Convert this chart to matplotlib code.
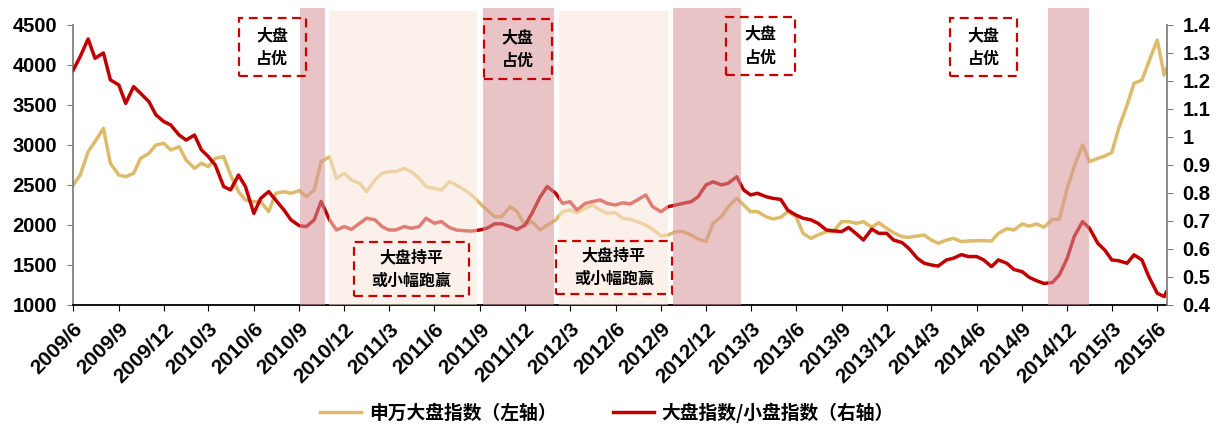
import pandas as pd
import matplotlib
matplotlib.use('Agg')
import matplotlib.pyplot as plt
from matplotlib.patches import Rectangle
from matplotlib.ticker import MultipleLocator, FuncFormatter

plt.rcParams['font.family'] = ['Liberation Sans', 'Noto Sans CJK SC']
plt.rcParams['font.weight'] = 'bold'

# semi-monthly sampling dates (1st / 15th), last point = last trading day shown
dates = list(pd.date_range('2009-06-01', periods=146, freq='SMS')) + [pd.Timestamp('2015-06-19')]

# 申万大盘指数 (left axis)
sw_large = [2500, 2625, 2917, 3042, 3208, 2771, 2625, 2604, 2646, 2833,
            2896, 3000, 3021, 2938, 2979, 2813, 2708, 2771, 2729, 2833,
            2854, 2625, 2417, 2313, 2292, 2292, 2167, 2396, 2417, 2396,
            2430, 2354, 2437, 2792, 2854, 2583, 2646, 2563, 2521, 2417,
            2563, 2646, 2667, 2667, 2708, 2667, 2583, 2479, 2458, 2437,
            2542, 2500, 2437, 2375, 2271, 2188, 2104, 2104, 2229, 2167,
            2000, 2042, 1937, 2000, 2062, 2167, 2187, 2154, 2208, 2250,
            2187, 2146, 2154, 2083, 2071, 2042, 2000, 1946, 1862, 1875,
            1917, 1917, 1875, 1825, 1792, 2021, 2104, 2229, 2333, 2250,
            2167, 2167, 2104, 2075, 2096, 2167, 2104, 1896, 1833, 1875,
            1917, 1917, 2042, 2042, 2021, 2042, 1971, 2029, 1958, 1904,
            1854, 1846, 1862, 1875, 1812, 1771, 1812, 1833, 1792, 1800,
            1804, 1804, 1800, 1896, 1954, 1937, 2012, 1987, 2012, 1971,
            2071, 2071, 2458, 2729, 3000, 2792, 2833, 2862, 2904, 3208,
            3500, 3771, 3812, 4042, 4312, 3875, 3950]

# 大盘指数/小盘指数 (right axis)
big_small_ratio = [1.239, 1.287, 1.350, 1.281, 1.300, 1.204, 1.186, 1.120, 1.180, 1.156,
                   1.126, 1.079, 1.055, 1.043, 1.007, 0.989, 1.007, 0.954, 0.930, 0.900,
                   0.823, 0.811, 0.864, 0.823, 0.727, 0.781, 0.805, 0.775, 0.739, 0.704,
                   0.683, 0.680, 0.704, 0.770, 0.704, 0.668, 0.680, 0.670, 0.692, 0.710,
                   0.704, 0.680, 0.668, 0.668, 0.680, 0.674, 0.680, 0.710, 0.692, 0.698,
                   0.677, 0.668, 0.665, 0.664, 0.668, 0.674, 0.690, 0.690, 0.680, 0.670,
                   0.685, 0.727, 0.787, 0.823, 0.799, 0.763, 0.769, 0.739, 0.763, 0.769,
                   0.775, 0.763, 0.757, 0.765, 0.761, 0.775, 0.793, 0.751, 0.733, 0.751,
                   0.757, 0.763, 0.769, 0.787, 0.829, 0.840, 0.829, 0.835, 0.858, 0.811,
                   0.793, 0.799, 0.787, 0.781, 0.777, 0.739, 0.721, 0.710, 0.704, 0.692,
                   0.668, 0.665, 0.662, 0.677, 0.654, 0.632, 0.671, 0.656, 0.656, 0.632,
                   0.623, 0.602, 0.567, 0.549, 0.543, 0.539, 0.561, 0.567, 0.580, 0.573,
                   0.573, 0.561, 0.537, 0.561, 0.549, 0.527, 0.519, 0.499, 0.486, 0.477,
                   0.480, 0.507, 0.567, 0.644, 0.698, 0.674, 0.620, 0.596, 0.561, 0.558,
                   0.549, 0.579, 0.561, 0.501, 0.442, 0.430, 0.445]

# periods
big_periods = [('2010-09-03', '2010-10-22'), ('2011-09-08', '2012-01-29'),
               ('2012-09-25', '2013-02-10'), ('2014-10-23', '2015-01-14')]
flat_periods = [('2010-10-30', '2011-08-27'), ('2012-02-07', '2012-09-15')]

tick_dates = pd.date_range('2009-06-01', '2015-06-01', freq='3MS')
tick_labels = [f'{d.year}/{d.month}' for d in tick_dates]

label_big = '大盘\n占优'
label_flat = '大盘持平\n或小幅跑赢'
# annotation boxes in axes fraction: x0, x1, y0, y1, text
boxes = [(0.1513, 0.2128, 0.818, 1.025, label_big),
         (0.2567, 0.3622, 0.032, 0.225, label_flat),
         (0.3753, 0.4378, 0.807, 1.021, label_big),
         (0.4412, 0.5476, 0.039, 0.230, label_flat),
         (0.5970, 0.6600, 0.822, 1.030, label_big),
         (0.8014, 0.8634, 0.818, 1.025, label_big)]

fig = plt.figure(figsize=(12.21, 4.30), dpi=100)
ax = fig.add_axes([0.060, 0.2907, 0.8955, 0.6512])
ax2 = ax.twinx()

l1, = ax.plot(dates, sw_large, color='#DCBB6A', lw=2.5, zorder=2)
l2, = ax2.plot(dates, big_small_ratio, color='#C00000', lw=2.5, zorder=2)

# shaded periods drawn over the lines
for s, e in big_periods:
    ax2.axvspan(pd.Timestamp(s), pd.Timestamp(e), ymin=0, ymax=1.06, color='#D7959A',
                alpha=0.55, lw=0, zorder=3, clip_on=False)
for s, e in flat_periods:
    ax2.axvspan(pd.Timestamp(s), pd.Timestamp(e), ymin=0, ymax=1.05, color='#FBE7D9',
                alpha=0.55, lw=0, zorder=3, clip_on=False)

for x0, x1, y0, y1, txt in boxes:
    ax2.add_patch(Rectangle((x0, y0), x1 - x0, y1 - y0, transform=ax2.transAxes,
                            fill=False, edgecolor='#C80000', lw=1.6,
                            linestyle=(0, (4, 2.5)), zorder=5, clip_on=False))
    ax2.text((x0 + x1) / 2, (y0 + y1) / 2, txt, transform=ax2.transAxes,
             ha='center', va='center', fontsize=11.5, family='Noto Sans CJK SC',
             fontweight='bold', linespacing=1.6, zorder=6)

ax.set_xlim(pd.Timestamp('2009-06-01'), pd.Timestamp('2015-06-20'))
ax.set_ylim(1000, 4500)
ax.yaxis.set_major_locator(MultipleLocator(500))
ax2.set_ylim(0.4, 1.4)
ax2.yaxis.set_major_locator(MultipleLocator(0.1))
ax2.yaxis.set_major_formatter(FuncFormatter(lambda v, p: f'{round(v, 1):g}'))

ax.set_xticks(tick_dates)
ax.set_xticklabels(tick_labels, rotation=45, ha='right', rotation_mode='anchor', fontsize=15)

ax.tick_params(axis='y', labelsize=14.5, length=4.5, color='#808080', pad=7)
ax.tick_params(axis='x', length=4.5, color='black', pad=6)
ax2.tick_params(axis='y', labelsize=14.5, length=4.5, color='#808080', pad=7)

for sp in ['top']:
    ax.spines[sp].set_visible(False)
    ax2.spines[sp].set_visible(False)
ax2.spines['left'].set_visible(False)
ax2.spines['bottom'].set_visible(False)
ax.spines['right'].set_visible(False)
ax.spines['left'].set_color('#808080')
ax.spines['left'].set_linewidth(1.3)
ax2.spines['right'].set_color('#808080')
ax2.spines['right'].set_linewidth(1.3)
ax.spines['bottom'].set_color('black')
ax.spines['bottom'].set_linewidth(1.3)

fig.legend([l1, l2], ['申万大盘指数（左轴）', '大盘指数/小盘指数（右轴）'],
           loc='center', bbox_to_anchor=(0.497, 0.04), ncol=2, frameon=False,
           prop=dict(family='Noto Sans CJK SC', weight='bold', size=13.5),
           handlelength=2.2, handletextpad=0.4, columnspacing=3.0)

fig.savefig('out.png', dpi=100)
